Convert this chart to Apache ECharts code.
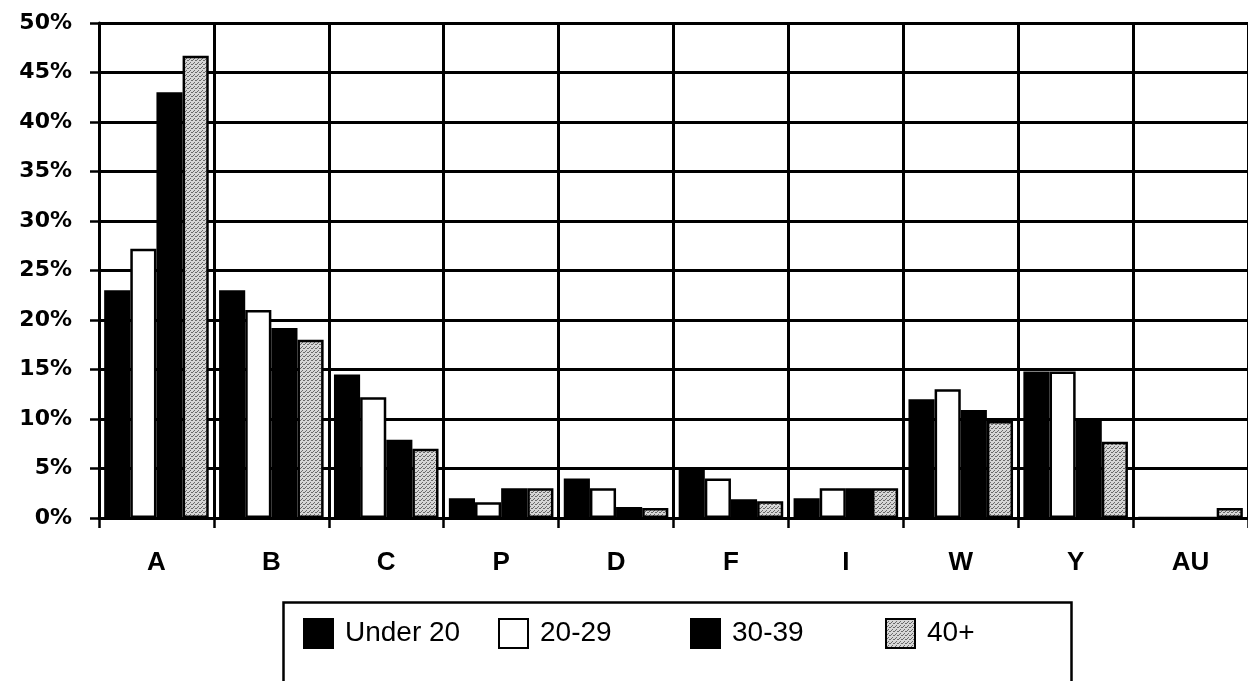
<!DOCTYPE html>
<html><head><meta charset="utf-8">
<script src="https://cdn.jsdelivr.net/npm/echarts@6/dist/echarts.min.js"></script>
<style>html,body{margin:0;padding:0;background:#fff}#c{width:1248px;height:681px}</style>
</head><body><div id="c"></div>
<script>
const categories = ['A','B','C','P','D','F','I','W','Y','AU'];
const under20 = [23, 23, 14.5, 2, 4, 5, 2, 12, 14.8, 0];
const age20to29 = [27.2, 21, 12.2, 1.6, 3, 4, 3, 13, 14.8, 0];
const age30to39 = [43, 19.2, 7.9, 3, 1.1, 1.9, 3, 10.9, 10, 0];
const age40plus = [46.7, 18, 7, 3, 1, 1.7, 3, 9.8, 7.7, 1];
const seriesNames = ['Under 20', '20-29', '30-39', '40+'];

// stipple pattern for the 40+ series
const pc = document.createElement('canvas');
pc.width = 4; pc.height = 4;
const pctx = pc.getContext('2d');
pctx.fillStyle = '#d6d6d6'; pctx.fillRect(0,0,4,4);
pctx.fillStyle = '#6a6a6a';
pctx.fillRect(0,0,1,1); pctx.fillRect(2,2,1,1); pctx.fillRect(3,0,1,1); pctx.fillRect(1,3,1,1);
const stipple = {image: pc, repeat: 'repeat'};

const FONT = 'Liberation Sans';
const chart = echarts.init(document.getElementById('c'), null, {renderer: 'canvas'});

const styles = [
  {color: '#000', borderColor: '#000', borderWidth: 2.5},
  {color: '#fff', borderColor: '#000', borderWidth: 2.5},
  {color: '#000', borderColor: '#000', borderWidth: 2.5},
  {color: stipple, borderColor: '#000', borderWidth: 2.5}
];
const dataSets = [under20, age20to29, age30to39, age40plus];
const legendLefts = [303, 498, 690, 885];

chart.setOption({
  animation: false,
  backgroundColor: '#fff',
  textStyle: {fontFamily: FONT, color: '#000'},
  grid: {left: 99, right: -4, top: 23, bottom: 163, containLabel: false},
  graphic: [{
    type: 'rect', left: 281, top: 600, z: 10,
    shape: {width: 788, height: 100},
    style: {fill: 'none', stroke: '#000', lineWidth: 2.5}
  }],
  legend: seriesNames.map((n, i) => ({
    data: [n], left: legendLefts[i], top: 618, padding: 0,
    itemWidth: 29, itemHeight: 29, icon: 'rect',
    textStyle: {fontFamily: FONT, fontSize: 28, color: '#000', padding: [8,0,0,7]}
  })),
  xAxis: {
    type: 'category', data: categories,
    axisLine: {lineStyle: {color: '#000', width: 3}},
    axisTick: {show: true, length: 10, lineStyle: {color: '#000', width: 2.5}},
    splitLine: {show: true, interval: 0, lineStyle: {color: '#000', width: 3}},
    axisLabel: {fontFamily: FONT, fontSize: 26, fontWeight: 'bold', color: '#000', margin: 32, interval: 0}
  },
  yAxis: {
    type: 'value', min: 0, max: 50, interval: 5,
    axisLine: {show: true, lineStyle: {color: '#000', width: 3}},
    axisTick: {show: true, length: 9, lineStyle: {color: '#000', width: 2.5}},
    splitLine: {show: true, lineStyle: {color: '#000', width: 3}},
    axisLabel: {formatter: '{value}%', fontFamily: 'DejaVu Sans', fontSize: 22, fontWeight: 'bold', color: '#000', margin: 27}
  },
  series: seriesNames.map((n, i) => ({
    name: n, type: 'bar', data: dataSets[i],
    barGap: '0%', barCategoryGap: '9%',
    itemStyle: styles[i], z: 3
  }))
});
</script></body></html>
